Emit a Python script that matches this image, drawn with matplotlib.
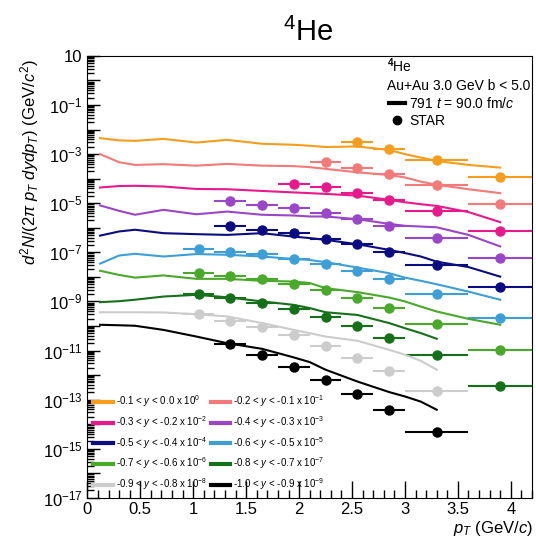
import numpy as np
import matplotlib.pyplot as plt
from matplotlib.lines import Line2D
from matplotlib.ticker import LogLocator, MultipleLocator, FuncFormatter, NullFormatter

plt.rcParams['font.family'] = ['Liberation Sans', 'DejaVu Sans']
plt.rcParams['mathtext.fontset'] = 'custom'
plt.rcParams['mathtext.rm'] = 'Liberation Sans'
plt.rcParams['mathtext.it'] = 'Liberation Sans:italic'
plt.rcParams['mathtext.bf'] = 'Liberation Sans:bold'

# rapidity slices, scale factors and colours
y_bins = ['-0.1 < $y$ < 0.0', '-0.2 < $y$ < -0.1', '-0.3 < $y$ < -0.2', '-0.4 < $y$ < -0.3',
          '-0.5 < $y$ < -0.4', '-0.6 < $y$ < -0.5', '-0.7 < $y$ < -0.6', '-0.8 < $y$ < -0.7',
          '-0.9 < $y$ < -0.8', '-1.0 < $y$ < -0.9']
scale_exp = [0, -1, -2, -3, -4, -5, -6, -7, -8, -9]
colors = ['#f59d1c', '#f27a78', '#e8198b', '#9a46c8', '#0c0c82',
          '#3d9fd6', '#4aa82a', '#16701a', '#cccccc', '#000000']

# model (791, t = 90 fm/c): pT grid and log10 of the scaled spectra
model_pt = [0.12, 0.3, 0.45, 0.72, 1.03, 1.32, 1.65, 1.95, 2.1, 2.25, 2.55, 2.85, 3.0, 3.15, 3.3, 3.6, 3.9]
model_log = [
    [-2.35, -2.44, -2.46, -2.38, -2.53, -2.42, -2.58, -2.62, -2.66, -2.71, -2.69, -2.83, -3.00, -3.14, -3.28, -3.44, -3.55],
    [-3.00, -3.33, -3.44, -3.41, -3.47, -3.40, -3.47, -3.49, -3.53, -3.60, -3.74, -3.85, -3.95, -4.12, -4.25, -4.43, -4.59],
    [-4.36, -4.30, -4.29, -4.32, -4.42, -4.43, -4.50, -4.56, -4.59, -4.62, -4.69, -4.86, -4.96, -5.04, -5.11, -5.36, -5.77],
    [-5.09, -5.31, -5.47, -5.27, -5.45, -5.34, -5.47, -5.50, -5.54, -5.54, -5.65, -5.84, -5.92, -5.95, -5.98, -6.29, -6.76],
    [-6.32, -6.15, -6.08, -6.22, -6.26, -6.29, -6.22, -6.36, -6.42, -6.49, -6.67, -6.90, -7.03, -7.17, -7.38, -7.60, -7.99],
    [-7.46, -7.13, -7.06, -7.17, -7.07, -7.10, -7.17, -7.27, -7.31, -7.40, -7.62, -7.85, -8.03, -8.16, -8.30, -8.60, -8.93],
    [-7.75, -7.92, -8.03, -7.94, -8.08, -8.08, -8.16, -8.19, -8.25, -8.46, -8.62, -8.84, -9.00, -9.21, -9.41, -9.71, -9.95],
    [-9.03, -8.99, -8.93, -8.80, -8.73, -8.83, -9.00, -9.14, -9.27, -9.44, -9.55, -9.88, -10.09, -10.29, -10.52],
    [-9.44, -9.44, -9.44, -9.45, -9.52, -9.61, -9.88, -10.16, -10.29, -10.43, -10.60, -10.97, -11.17, -11.42, -11.78],
    [-9.95, -9.97, -9.99, -10.16, -10.43, -10.70, -10.93, -11.28, -11.47, -11.78, -12.26, -12.69, -12.87, -13.08, -13.41],
]

# STAR data: bin centres, half widths, log10 of the scaled spectra
star_pt = [1.05, 1.35, 1.65, 1.95, 2.25, 2.55, 2.85, 3.3, 3.9]
star_hw = [0.15, 0.15, 0.15, 0.15, 0.15, 0.15, 0.15, 0.3, 0.3]
star_first = [5, 4, 3, 1, 1, 0, 0, 0, 0, 1]
star_log = [
    [-2.51, -2.79, -3.22, -3.95],
    [-3.34, -3.55, -3.80, -4.25, -5.03],
    [-4.21, -4.35, -4.58, -4.85, -5.32, -6.12],
    [-4.89, -5.07, -5.20, -5.40, -5.64, -5.92, -6.42, -7.24],
    [-5.94, -6.08, -6.23, -6.45, -6.67, -6.99, -7.51, -8.42],
    [-6.87, -6.97, -7.07, -7.27, -7.48, -7.75, -8.08, -8.69, -9.68],
    [-7.85, -7.96, -8.08, -8.28, -8.53, -8.87, -9.27, -9.91, -10.98],
    [-8.70, -8.87, -9.07, -9.31, -9.64, -10.02, -10.49, -11.20, -12.44],
    [-9.50, -9.78, -10.06, -10.36, -10.81, -11.31, -11.85, -12.64],
    [-10.74, -11.20, -11.66, -12.20, -12.75, -13.41, -14.30],
]

fig = plt.figure(figsize=(5.36, 5.40), dpi=100)
ax = fig.add_axes([0.163, 0.078, 0.8295, 0.8185])

handles = []
for i in range(10):
    ym = 10 ** np.array(model_log[i])
    ax.plot(model_pt[:len(ym)], ym, color=colors[i], lw=1.5)
    n = len(star_log[i])
    s = star_first[i]
    ax.errorbar(star_pt[s:s + n], 10 ** np.array(star_log[i]), xerr=star_hw[s:s + n],
                fmt='o', color=colors[i], ms=6.5, elinewidth=1.5, capsize=0)
    h = Line2D([], [], color=colors[i], lw=3)
    handles.append((h, y_bins[i] + ' x 10$^{%d}$' % scale_exp[i]))

ax.set_yscale('log')
ax.set_xlim(0, 4.2)
ax.set_ylim(1e-17, 10)

ax.yaxis.set_major_locator(LogLocator(base=10, numticks=30))
ax.yaxis.set_minor_locator(LogLocator(base=10, subs=np.arange(2, 10), numticks=30))
ax.yaxis.set_minor_formatter(NullFormatter())


def ylab(v, pos):
    e = int(round(np.log10(v)))
    if e % 2 == 0:
        return ''
    if e == 1:
        return '10'
    return '$10^{%d}$' % e


ax.yaxis.set_major_formatter(FuncFormatter(ylab))
ax.xaxis.set_major_locator(MultipleLocator(0.5))
ax.xaxis.set_minor_locator(MultipleLocator(0.1))
ax.xaxis.set_major_formatter(FuncFormatter(lambda v, p: '%g' % v))
ax.tick_params(axis='both', which='both', direction='in', top=False, right=False, labelsize=12)
ax.tick_params(axis='x', which='major', length=12, width=1)
ax.tick_params(axis='x', which='minor', length=6, width=1)
ax.tick_params(axis='y', which='major', length=9, width=1)
ax.tick_params(axis='y', which='minor', length=5, width=1)
ax.tick_params(axis='x', pad=3)

order = [0, 2, 4, 6, 8, 1, 3, 5, 7, 9]
leg = ax.legend([handles[k][0] for k in order], [handles[k][1] for k in order],
                ncol=2, loc='lower left', bbox_to_anchor=(0.0, 0.0), frameon=False,
                fontsize=7, handlelength=2.0, handletextpad=0.35, columnspacing=0.3,
                labelspacing=0.5, borderaxespad=0.2)
ax.add_artist(leg)

ax.text(0.675, 0.977, '$^{\\mathbf{4}}$He', transform=ax.transAxes, fontsize=10, va='center')
ax.text(0.675, 0.932, 'Au+Au 3.0 GeV b < 5.0', transform=ax.transAxes, fontsize=10, va='center')
info = [Line2D([], [], color='black', lw=3), Line2D([], [], color='black', marker='o', ls='', ms=6)]
ax.legend(info, ['791 $t$ = 90.0 fm/$c$', 'STAR'], loc='upper left', bbox_to_anchor=(0.665, 0.922),
          frameon=False, fontsize=10, handlelength=1.2, handletextpad=0.3, labelspacing=0.2,
          borderaxespad=0)

fig.text(0.575, 0.94, '$^4$He', fontsize=21, ha='center', va='center')
fig.text(0.055, 0.89, '$d^2N/(2\\pi\\ p_T\\ dydp_T)$ (GeV/$c^2$)', rotation=90,
         fontsize=12, ha='center', va='top')
fig.text(0.995, 0.022, '$p_T$ (GeV/$c$)', fontsize=12, ha='right', va='center')

fig.savefig('out.png', dpi=100)
